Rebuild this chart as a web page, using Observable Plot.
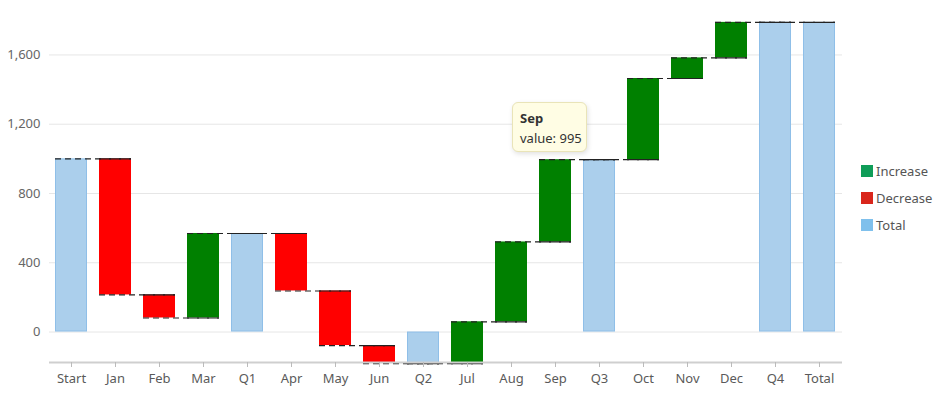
<!DOCTYPE html>
<html>
<head>
<meta charset="utf-8">
<script src="https://cdn.jsdelivr.net/npm/d3@7"></script>
<script src="https://cdn.jsdelivr.net/npm/@observablehq/plot@0.6"></script>
<style>
  html, body { margin: 0; padding: 0; background: #fff; }
  #wrap { position: relative; width: 939px; height: 394px; font-family: "Noto Sans", sans-serif; }
  #legend { position: absolute; left: 861px; top: 157px; font-size: 13px; color: #555; }
  #legend .row { display: flex; align-items: center; height: 27px; }
  #legend .sw { width: 12px; height: 12px; margin-right: 3px; }
  #tip { position: absolute; left: 512px; top: 102px; width: 75px; height: 50px; box-sizing: border-box;
         background: #fffde4; border: 1px solid #e9e4b8; border-radius: 6px;
         box-shadow: 1px 2px 5px rgba(0,0,0,0.12); padding: 5px 0 0 7px; font-size: 13px; color: #333; line-height: 20px; }
</style>
</head>
<body>
<div id="wrap"></div>
<script>
const categories = ["Start","Jan","Feb","Mar","Q1","Apr","May","Jun","Q2","Jul","Aug","Sep","Q3","Oct","Nov","Dec","Q4","Total"];
const values     = [1000, -786, -133, 488, 569, -332, -315, -104, -182, 241, 461, 475, 995, 469, 119, 205, 1788, 1788];
const kinds      = ["Total","Decrease","Decrease","Increase","Total","Decrease","Decrease","Decrease","Total","Increase","Increase","Increase","Total","Increase","Increase","Increase","Total","Total"];
const yTicks     = [0, 400, 800, 1200, 1600];
const legendItems = ["Increase", "Decrease", "Total"];
const legendColors = ["#0f9d58", "#d9261c", "#7fc0ec"];

// build rows
let run = 0;
const rows = categories.map((c, i) => {
  let y1, y2;
  if (kinds[i] === "Total") { y1 = 0; y2 = values[i]; run = values[i]; }
  else { y1 = run; y2 = run + values[i]; run = y2; }
  return {cat: c, kind: kinds[i], y1, y2, end: y2};
});
const links = rows.slice(0, -1).map((r, i) => ({from: r.cat, to: rows[i + 1].cat, y: r.end}));

const chart = Plot.plot({
  width: 939, height: 394,
  marginLeft: 49, marginRight: 97, marginTop: 16, marginBottom: 32,
  style: {fontFamily: "Noto Sans", fontSize: "13px", color: "#666", background: "#fff"},
  x: {domain: categories, paddingInner: 0.27, paddingOuter: 0.135, label: null},
  y: {domain: [-176, 1822], label: null},
  marks: [
    Plot.gridY(yTicks, {stroke: "#e6e6e6", strokeOpacity: 1}),
    Plot.axisY(yTicks, {tickSize: 0, tickPadding: 9, tickFormat: d3.format(","), fill: "#666", label: null}),
    Plot.barY(rows.filter(d => d.kind === "Total"), {x: "cat", y1: "y1", y2: "y2", fill: "#abcfec", stroke: "#8fbfe8", strokeWidth: 1, inset: 0.5}),
    Plot.barY(rows.filter(d => d.kind === "Decrease"), {x: "cat", y1: "y1", y2: "y2", fill: "#ff0000", inset: 0}),
    Plot.barY(rows.filter(d => d.kind === "Increase"), {x: "cat", y1: "y1", y2: "y2", fill: "#008000", inset: 0}),
    Plot.ruleY(links, {x1: "from", x2: "to", y: "y", stroke: "#222", strokeDasharray: "6,4", strokeWidth: 1.2}),
    Plot.tickY(links, {x: "to", y: "y", stroke: "#222", strokeDasharray: "6,4", strokeWidth: 1.2}),
    Plot.ruleY([-176], {stroke: "#cfcfcf", strokeWidth: 2}),
    Plot.axisX({tickSize: 5, tickPadding: 6, stroke: "#bbb", fill: "#5a5a5a", label: null})
  ]
});

const wrap = document.getElementById("wrap");
wrap.appendChild(chart);

const legend = document.createElement("div");
legend.id = "legend";
legendItems.forEach((name, i) => {
  const row = document.createElement("div");
  row.className = "row";
  const sw = document.createElement("div");
  sw.className = "sw";
  sw.style.background = legendColors[i];
  const t = document.createElement("span");
  t.textContent = name;
  row.appendChild(sw); row.appendChild(t);
  legend.appendChild(row);
});
wrap.appendChild(legend);

const tip = document.createElement("div");
tip.id = "tip";
const sepIdx = categories.indexOf("Sep");
tip.innerHTML = "<b>" + categories[sepIdx] + "</b><br>value: " + rows[sepIdx].end;
wrap.appendChild(tip);
</script>
</body>
</html>
